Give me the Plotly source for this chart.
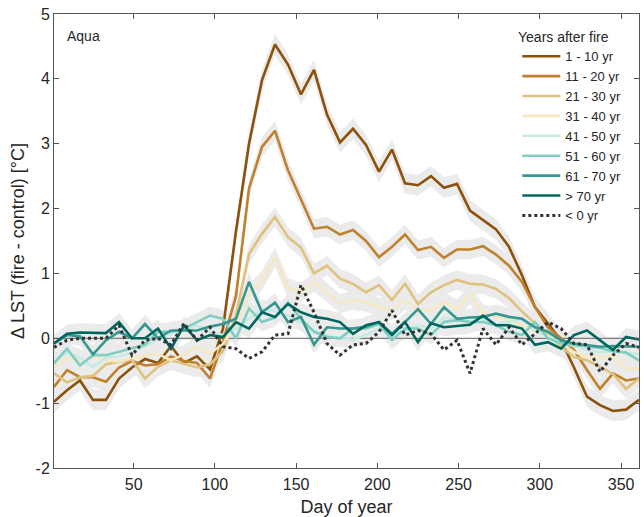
import plotly.graph_objects as go

days = [1, 9, 17, 25, 33, 41, 49, 57, 65, 73, 81, 89, 97, 105, 113, 121, 129, 137, 145, 153,
        161, 169, 177, 185, 193, 201, 209, 217, 225, 233, 241, 249, 257, 265, 273, 281, 289, 297,
        305, 313, 321, 329, 337, 345, 353, 361]

yr_1_10 = [-0.98, -0.80, -0.65, -0.95, -0.95, -0.62, -0.45, -0.32, -0.38, -0.12, -0.38, -0.28, -0.48,
           0.15, 1.65, 3.00, 3.98, 4.53, 4.22, 3.76, 4.14, 3.45, 3.02, 3.23, 2.98, 2.57, 2.91, 2.39,
           2.36, 2.50, 2.32, 2.38, 1.97, 1.82, 1.68, 1.41, 0.97, 0.48, 0.22, -0.03, -0.45, -0.90,
           -1.03, -1.12, -1.10, -0.95]
yr_11_20 = [-0.75, -0.49, -0.60, -0.60, -0.67, -0.45, -0.35, -0.42, -0.40, -0.28, -0.35, -0.38, -0.62,
            -0.05, 0.65, 2.31, 2.95, 3.20, 2.59, 2.15, 1.69, 1.72, 1.60, 1.67, 1.50, 1.25, 1.41, 1.60,
            1.36, 1.41, 1.24, 1.37, 1.37, 1.42, 1.29, 1.12, 0.87, 0.48, 0.17, 0.00, -0.18, -0.49,
            -0.78, -0.54, -0.65, -0.62]
yr_21_30 = [-0.54, -0.68, -0.60, -0.58, -0.40, -0.36, -0.33, -0.62, -0.44, -0.34, -0.40, -0.45, -0.40,
            -0.20, 0.35, 1.30, 1.61, 1.87, 1.56, 1.40, 1.00, 1.12, 0.92, 0.84, 0.71, 0.82, 0.59, 0.84,
            0.53, 0.71, 0.82, 0.90, 0.84, 0.83, 0.76, 0.62, 0.41, 0.23, 0.07, -0.13, -0.29, -0.34,
            -0.44, -0.55, -0.78, -0.62]
yr_31_40 = [-0.44, -0.30, -0.36, -0.29, -0.34, -0.36, -0.30, -0.26, -0.24, -0.34, -0.25, -0.13, -0.24,
            -0.08, 0.20, 0.69, 0.89, 1.25, 0.77, 0.71, 0.87, 0.71, 0.53, 0.59, 0.56, 0.48, 0.43, 0.59,
            0.45, 0.43, 0.56, 0.45, 0.68, 0.38, 0.33, 0.28, 0.20, 0.10, 0.04, -0.08, -0.21, -0.29,
            -0.29, -0.26, -0.47, -0.47]
yr_41_50 = [-0.35, -0.22, -0.30, -0.44, -0.30, -0.28, -0.22, -0.12, -0.02, 0.08, 0.12, 0.20, 0.10,
            0.05, 0.15, 0.30, 0.45, 0.42, 0.35, 0.25, 0.12, 0.05, 0.00, -0.02, 0.05, 0.15, 0.05, 0.12,
            0.20, 0.15, 0.32, 0.28, 0.32, 0.30, 0.22, 0.25, 0.30, 0.12, 0.02, -0.08, -0.12, -0.18,
            -0.22, -0.20, -0.22, -0.25]
yr_51_60 = [-0.39, -0.16, -0.42, -0.26, -0.26, -0.21, -0.16, -0.10, 0.10, 0.10, 0.15, 0.25, 0.35,
            0.30, 0.00, 0.46, 0.25, 0.32, 0.55, 0.30, 0.10, 0.02, 0.00, 0.15, 0.15, 0.22, -0.03, 0.15,
            0.15, 0.05, 0.25, 0.28, 0.25, 0.25, 0.20, 0.10, 0.05, 0.25, 0.00, -0.08, -0.10, -0.13,
            -0.15, -0.20, -0.22, -0.34]
yr_61_70 = [-0.08, 0.05, 0.03, -0.25, -0.03, 0.10, 0.00, 0.22, 0.00, 0.12, 0.12, 0.12, 0.18,
            0.22, 0.30, 0.87, 0.40, 0.55, 0.25, 0.33, -0.10, 0.17, 0.15, 0.15, 0.18, 0.25, 0.07, 0.25,
            0.45, 0.22, 0.48, 0.30, 0.32, 0.33, 0.38, 0.33, 0.30, 0.17, 0.10, -0.03, -0.08, -0.10,
            -0.13, -0.12, -0.12, -0.13]
yr_gt_70 = [-0.08, 0.07, 0.09, 0.08, 0.08, 0.25, 0.00, 0.00, 0.15, -0.16, 0.20, -0.03, 0.05,
            0.02, 0.25, 0.15, 0.40, 0.33, 0.53, 0.40, 0.33, 0.30, 0.25, 0.07, 0.20, 0.25, 0.05, 0.25,
            -0.06, 0.23, 0.17, 0.19, 0.21, 0.35, 0.20, 0.20, 0.15, -0.10, -0.06, -0.16, 0.05, 0.12,
            -0.03, -0.18, 0.02, -0.02]
yr_lt_0 = [-0.14, -0.03, 0.00, 0.00, 0.00, 0.20, -0.26, -0.03, 0.00, -0.10, 0.23, -0.03, 0.17,
           -0.13, -0.16, -0.31, -0.21, 0.05, 0.07, 0.82, 0.40, -0.08, -0.26, -0.10, -0.08, 0.10, 0.43,
           0.05, 0.12, 0.07, -0.18, -0.03, -0.54, 0.15, -0.10, 0.17, -0.10, 0.07, 0.25, 0.15, -0.08,
           -0.10, -0.52, -0.26, -0.08, -0.14]

series_names = ["1 - 10 yr", "11 - 20 yr", "21 - 30 yr", "31 - 40 yr", "41 - 50 yr",
                "51 - 60 yr", "61 - 70 yr", "> 70 yr", "< 0 yr"]
series_values = [yr_1_10, yr_11_20, yr_21_30, yr_31_40, yr_41_50, yr_51_60, yr_61_70, yr_gt_70, yr_lt_0]
band_halfwidth = [0.16, 0.15, 0.15, 0.15, 0.14, 0.14, 0.14, 0.14, None]
colors = ["#8c510a", "#bf812d", "#dfc27d", "#f6e8c3", "#c7eae5", "#80cdc1", "#35978f", "#01665e", "#333333"]

x_range = [1, 361]
x_ticks = [50, 100, 150, 200, 250, 300, 350]
y_ticks = [-2, -1, 0, 1, 2, 3, 4, 5]
y_ticklabels = ["-2", "-1", "0", "1", "2", "3", "4", "5"]

FONT = "Liberation Sans, Arial, sans-serif"
TXT = "#262626"
fig = go.Figure()

# uncertainty bands
for vals, hw in zip(series_values, band_halfwidth):
    if hw is None:
        continue
    upper = [v + hw for v in vals]
    lower = [v - hw for v in vals]
    fig.add_trace(go.Scatter(
        x=days + days[::-1], y=upper + lower[::-1], fill="toself",
        fillcolor="#ebebeb", line=dict(width=0), mode="lines",
        showlegend=False, hoverinfo="skip"))

# zero reference line
fig.add_trace(go.Scatter(x=x_range, y=[0, 0], mode="lines",
                         line=dict(color="#7f7f7f", width=1.2),
                         showlegend=False, hoverinfo="skip"))

for name, vals, col in zip(series_names, series_values, colors):
    dash = "dot" if name == "< 0 yr" else "solid"
    fig.add_trace(go.Scatter(x=days, y=vals, mode="lines", name=name,
                             line=dict(color=col, width=2.6 if dash == "solid" else 3, dash=dash)))

axis_common = dict(showline=True, mirror="ticks", linecolor="#555555", linewidth=1,
                   ticks="inside", ticklen=5, tickcolor="#555555", showgrid=False,
                   zeroline=False, automargin=False,
                   tickfont=dict(family=FONT, size=16, color=TXT))

fig.update_layout(
    width=644, height=517,
    margin=dict(l=54, r=5, t=14, b=49),
    paper_bgcolor="white", plot_bgcolor="white",
    font=dict(family=FONT, color=TXT),
    xaxis=dict(range=x_range, tickvals=x_ticks, ticklabelstandoff=2,
               title=dict(text="Day of year", font=dict(family=FONT, size=18, color=TXT), standoff=9),
               **axis_common),
    yaxis=dict(range=[-2, 5], tickvals=y_ticks, ticktext=y_ticklabels,
               title=dict(text="Δ LST (fire - control) [°C]", font=dict(family=FONT, size=18, color=TXT), standoff=6),
               **axis_common),
    legend=dict(x=0.792, y=0.94, xanchor="left", yanchor="top",
                bgcolor="rgba(255,255,255,0)", borderwidth=0,
                font=dict(family=FONT, size=13, color=TXT),
                tracegroupgap=0, itemwidth=38),
    annotations=[
        dict(text="Aqua", xref="paper", yref="paper", x=0.018, y=0.952,
             xanchor="left", yanchor="middle", showarrow=False,
             font=dict(family=FONT, size=14, color=TXT)),
        dict(text="Years after fire", xref="paper", yref="paper", x=0.871, y=0.95,
             xanchor="center", yanchor="middle", showarrow=False,
             font=dict(family=FONT, size=14, color=TXT)),
    ],
)

# remove the browser's default 8px body margin so the figure fills the window exactly
fig.write_html("out.html",
               config={"displayModeBar": False},
               post_script="document.body.style.margin='0px';document.body.style.overflow='hidden';")
